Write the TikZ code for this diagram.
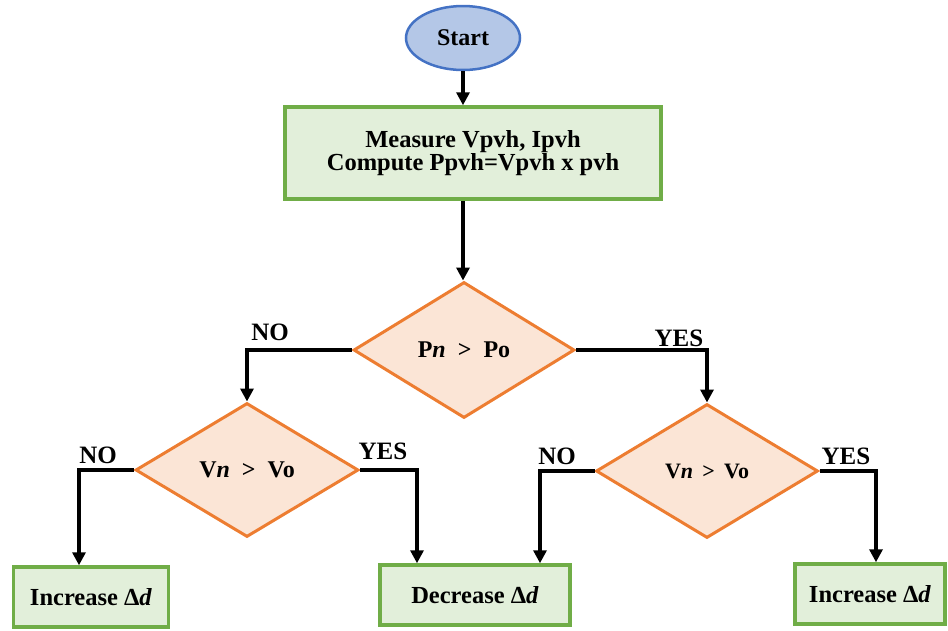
\documentclass[tikz,border=0pt]{standalone}
\usepackage{fontspec}
\setmainfont{Liberation Serif}
\usetikzlibrary{shapes.geometric,arrows.meta}
\definecolor{bluefill}{HTML}{B4C7E7}
\definecolor{blueline}{HTML}{4472C4}
\definecolor{greenfill}{HTML}{E2EFDA}
\definecolor{greenline}{HTML}{70AD47}
\definecolor{orangefill}{HTML}{FBE5D6}
\definecolor{orangeline}{HTML}{ED7D31}
\begin{document}
\begin{tikzpicture}[x=1pt,y=-1pt,
  startnode/.style={ellipse,draw=blueline,fill=bluefill,line width=2.5pt,minimum width=114pt,minimum height=64pt,inner sep=0pt,font=\fontsize{24}{28}\selectfont\bfseries},
  procbox/.style={rectangle,draw=greenline,fill=greenfill,line width=3.5pt,inner sep=0pt,font=\fontsize{24.5}{22}\selectfont\bfseries,align=center},
  decision/.style={diamond,draw=orangeline,fill=orangefill,line width=3pt,inner sep=0pt,aspect=1.65,font=\fontsize{24}{28}\selectfont\bfseries},
  conn/.style={line width=3.5pt,draw=black,-{Triangle[length=13pt,width=13pt]}},
  lbl/.style={font=\fontsize{25}{28}\selectfont\bfseries,inner sep=0pt}]
\useasboundingbox (0,0) rectangle (948,630);
\node[startnode] (start) at (463,38) {Start};
\node[procbox,minimum width=376pt,minimum height=92pt] (measure) at (473,153) {Measure Vpvh, Ipvh\hspace{14pt}\\Compute Ppvh=Vpvh x pvh};
\node[decision,minimum width=221pt,minimum height=136pt] (d1) at (464,350) {P\textit{n}\hspace{0.5em}>\hspace{0.5em}Po};
\node[decision,minimum width=223pt,minimum height=134pt] (d2) at (247,470) {V\textit{n}\hspace{0.5em}>\hspace{0.5em}Vo};
\node[decision,minimum width=222pt,minimum height=134pt,font=\fontsize{22}{26}\selectfont\bfseries] (d3) at (707,471) {V\textit{n}\hspace{0.42em}>\hspace{0.42em}Vo};
\node[procbox,minimum width=155pt,minimum height=60pt] (inc1) at (91,597) {Increase Δ\textit{d}};
\node[procbox,minimum width=190pt,minimum height=60pt] (dec) at (475,595) {Decrease Δ\textit{d}};
\node[procbox,minimum width=150pt,minimum height=60pt] (inc2) at (870,594) {Increase Δ\textit{d}};
\draw[conn] (start.south) -- (start.south |- measure.north);
\draw[conn] (start.south |- measure.south) -- (start.south |- d1.north);
\draw[conn] (d1.west) -| (d2.north);
\draw[conn] (d1.east) -| (d3.north);
\draw[conn] (d2.west) -| (inc1.north -| 79,0);
\draw[conn] (d2.east) -| (dec.north -| 417,0);
\draw[conn] (d3.west) -| (dec.north -| 540,0);
\draw[conn] (d3.east) -| (inc2.north -| 876,0);
\node[lbl] (no1) at (270,332) {NO};
\node[lbl] (yes1) at (679,338) {YES};
\node[lbl] (no2) at (98,455) {NO};
\node[lbl] (yes2) at (383,451) {YES};
\node[lbl] (no3) at (557,456) {NO};
\node[lbl] (yes3) at (846,456) {YES};
\end{tikzpicture}
\end{document}
